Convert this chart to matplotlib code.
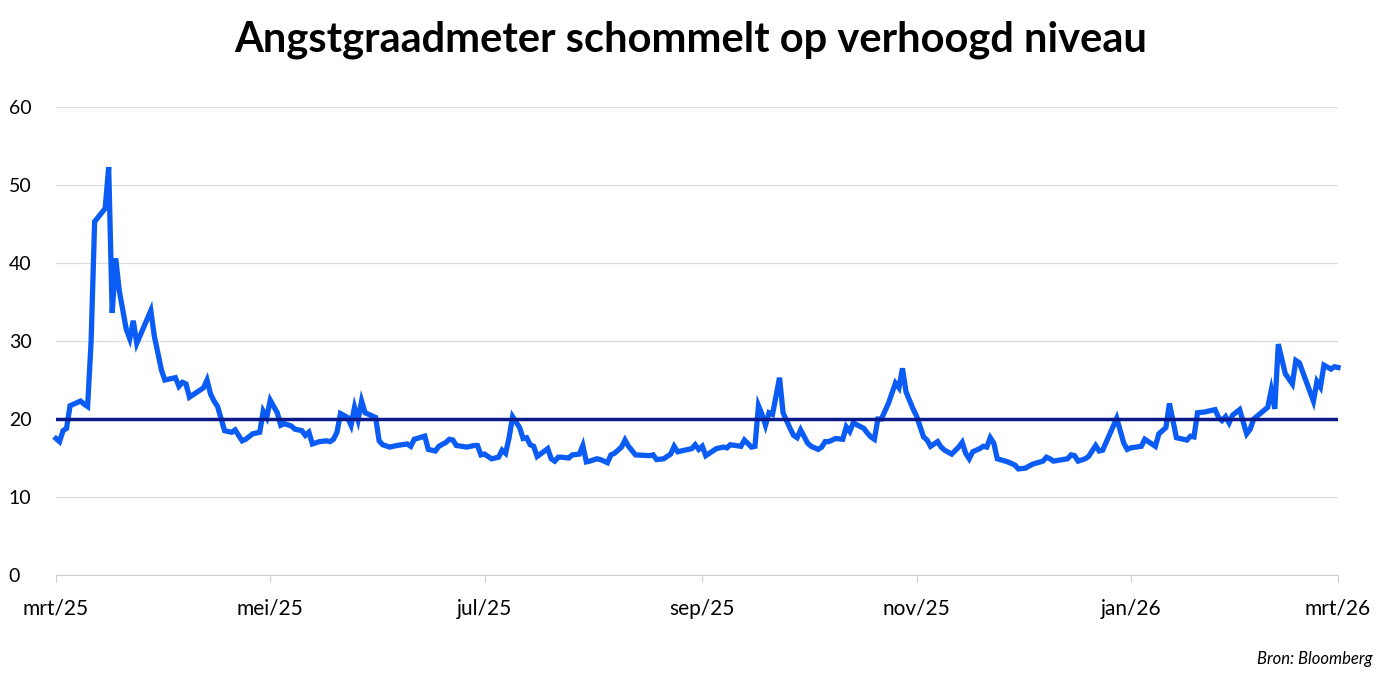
import matplotlib.pyplot as plt
import numpy as np
from datetime import date, timedelta

plt.rcParams['font.family'] = ['Lato', 'DejaVu Sans']

start = date(2025, 3, 1)
# days since 1 March 2025
day = [0, 1, 2, 3, 4, 7, 8, 9, 10, 11, 14, 15, 16, 17, 18, 20, 21, 22, 23, 27,
       28, 29, 30, 31, 34, 35, 36, 37, 38, 42, 43, 44, 45, 46, 48, 50, 51, 53, 54, 56,
       58, 59, 60, 61, 63, 64, 65, 67, 68, 70, 71, 72, 73, 75, 77, 78, 79, 80, 81, 83,
       84, 85, 86, 87, 88, 91, 92, 93, 95, 97, 100, 101, 102, 105, 106, 108, 109, 111, 112, 113,
       114, 117, 118, 119, 120, 121, 122, 124, 125, 126, 127, 128, 129, 130, 132, 133, 134, 135, 136, 137,
       140, 141, 142, 143, 144, 146, 147, 149, 150, 151, 152, 154, 155, 157, 158, 159, 161, 162, 163, 165,
       169, 170, 171, 173, 175, 176, 177, 181, 182, 183, 184, 185, 187, 188, 190, 191, 192, 195, 196, 198,
       199, 200, 201, 202, 203, 204, 206, 207, 208, 209, 210, 211, 212, 214, 215, 217, 218, 219, 220, 222,
       224, 225, 226, 227, 230, 231, 232, 233, 234, 235, 236, 237, 239, 240, 241, 242, 244, 245, 247, 248,
       249, 251, 252, 253, 255, 257, 258, 259, 260, 261, 263, 264, 265, 266, 267, 268, 271, 273, 274, 276,
       278, 281, 282, 283, 284, 288, 289, 290, 291, 293, 294, 296, 297, 298, 302, 304, 305, 306, 309, 310,
       313, 314, 316, 317, 319, 322, 323, 324, 325, 327, 330, 331, 332, 333, 334, 335, 337, 339, 340, 341,
       345, 346, 347, 348, 350, 352, 353, 354, 358, 359, 360, 361, 363, 364, 365]
vix = [17.5, 17.1, 18.5, 18.8, 21.7, 22.3, 21.9, 21.6, 30.0, 45.3, 47.0, 52.3, 33.6, 40.6, 36.5, 31.5, 30.3, 32.6, 29.7, 33.9,
       30.6, 28.5, 26.3, 25.0, 25.3, 24.2, 24.7, 24.5, 22.8, 24.0, 25.0, 23.2, 22.3, 21.6, 18.5, 18.3, 18.6, 17.2, 17.4, 18.1,
       18.3, 21.0, 20.2, 22.4, 20.8, 19.2, 19.4, 19.1, 18.7, 18.5, 17.9, 18.3, 16.8, 17.1, 17.2, 17.1, 17.4, 18.3, 20.7, 20.2,
       19.2, 21.5, 19.9, 22.3, 20.8, 20.2, 17.2, 16.7, 16.4, 16.6, 16.8, 16.5, 17.4, 17.8, 16.1, 15.9, 16.5, 17.0, 17.4, 17.3,
       16.6, 16.4, 16.5, 16.6, 16.6, 15.4, 15.5, 14.9, 15.0, 15.1, 16.0, 15.6, 17.6, 20.3, 18.9, 17.5, 17.6, 16.7, 16.5, 15.2,
       16.2, 14.9, 14.6, 15.1, 15.1, 15.0, 15.4, 15.5, 16.6, 14.5, 14.6, 14.9, 14.8, 14.4, 15.4, 15.6, 16.4, 17.3, 16.5, 15.4,
       15.3, 15.4, 14.8, 14.9, 15.5, 16.5, 15.8, 16.2, 16.7, 16.1, 16.5, 15.3, 15.9, 16.2, 16.4, 16.3, 16.7, 16.5, 17.3, 16.4,
       16.5, 21.7, 20.6, 19.2, 20.8, 20.6, 25.3, 20.8, 19.8, 18.8, 17.9, 17.6, 18.6, 16.9, 16.5, 16.1, 16.4, 17.1, 17.1, 17.5,
       17.4, 19.0, 18.4, 19.5, 18.8, 18.2, 17.7, 17.4, 20.0, 20.0, 21.0, 22.0, 24.6, 24.0, 26.5, 23.5, 21.3, 20.4, 17.7, 17.3,
       16.5, 17.1, 16.4, 16.0, 15.5, 16.4, 17.0, 15.6, 14.9, 15.8, 16.2, 16.5, 16.4, 17.6, 16.9, 14.9, 14.5, 14.1, 13.6, 13.7,
       14.2, 14.6, 15.1, 14.9, 14.6, 14.9, 15.4, 15.3, 14.6, 14.9, 15.2, 16.6, 15.9, 16.0, 20.1, 16.9, 16.1, 16.3, 16.5, 17.4,
       16.5, 18.1, 18.9, 22.0, 17.6, 17.3, 17.8, 17.7, 20.8, 20.9, 21.2, 20.2, 19.8, 20.3, 19.5, 20.5, 21.2, 18.1, 18.7, 20.0,
       21.5, 23.7, 21.3, 29.6, 25.8, 24.5, 27.5, 27.2, 22.3, 24.8, 24.1, 26.9, 26.4, 26.7, 26.6]
threshold = 20
month_ticks = ['2025-03-01', '2025-05-01', '2025-07-01', '2025-09-01', '2025-11-01', '2026-01-01', '2026-03-01']
month_labels = ['mrt/25', 'mei/25', 'jul/25', 'sep/25', 'nov/25', 'jan/26', 'mrt/26']

dates = [start + timedelta(days=d) for d in day]

fig = plt.figure(figsize=(13.82, 6.77), dpi=100)
ax = fig.add_axes([56 / 1382, 1 - 575 / 677, (1338 - 56) / 1382, (575 - 107) / 677])

ax.plot(dates, vix, color='#0a5cf5', linewidth=3.8, solid_joinstyle='miter', zorder=3, clip_on=False)
ax.axhline(threshold, color='#0a1a8a', linewidth=2.5, zorder=4)

ax.set_ylim(0, 60)
ax.set_xlim(date(2025, 3, 1), date(2026, 3, 1))
ax.set_yticks(range(0, 61, 10))
ax.grid(axis='y', color='#dddddd', linewidth=0.9)
ax.set_axisbelow(True)
for s in ['top', 'right', 'left']:
    ax.spines[s].set_visible(False)
ax.spines['bottom'].set_color('#cccccc')
ax.tick_params(axis='y', length=0, labelsize=14, pad=34)
for lab in ax.get_yticklabels():
    lab.set_horizontalalignment('left')
ax.set_xticks([np.datetime64(t) for t in month_ticks])
ax.set_xticklabels(month_labels, fontsize=15)
ax.tick_params(axis='x', length=5, color='#cccccc', pad=12)

fig.suptitle('Angstgraadmeter schommelt op verhoogd niveau', fontsize=30, fontweight='bold', y=0.97)
fig.text(0.993, 0.015, 'Bron: Bloomberg', fontsize=12, style='italic', ha='right', va='bottom')

plt.savefig('out.png', dpi=100)
